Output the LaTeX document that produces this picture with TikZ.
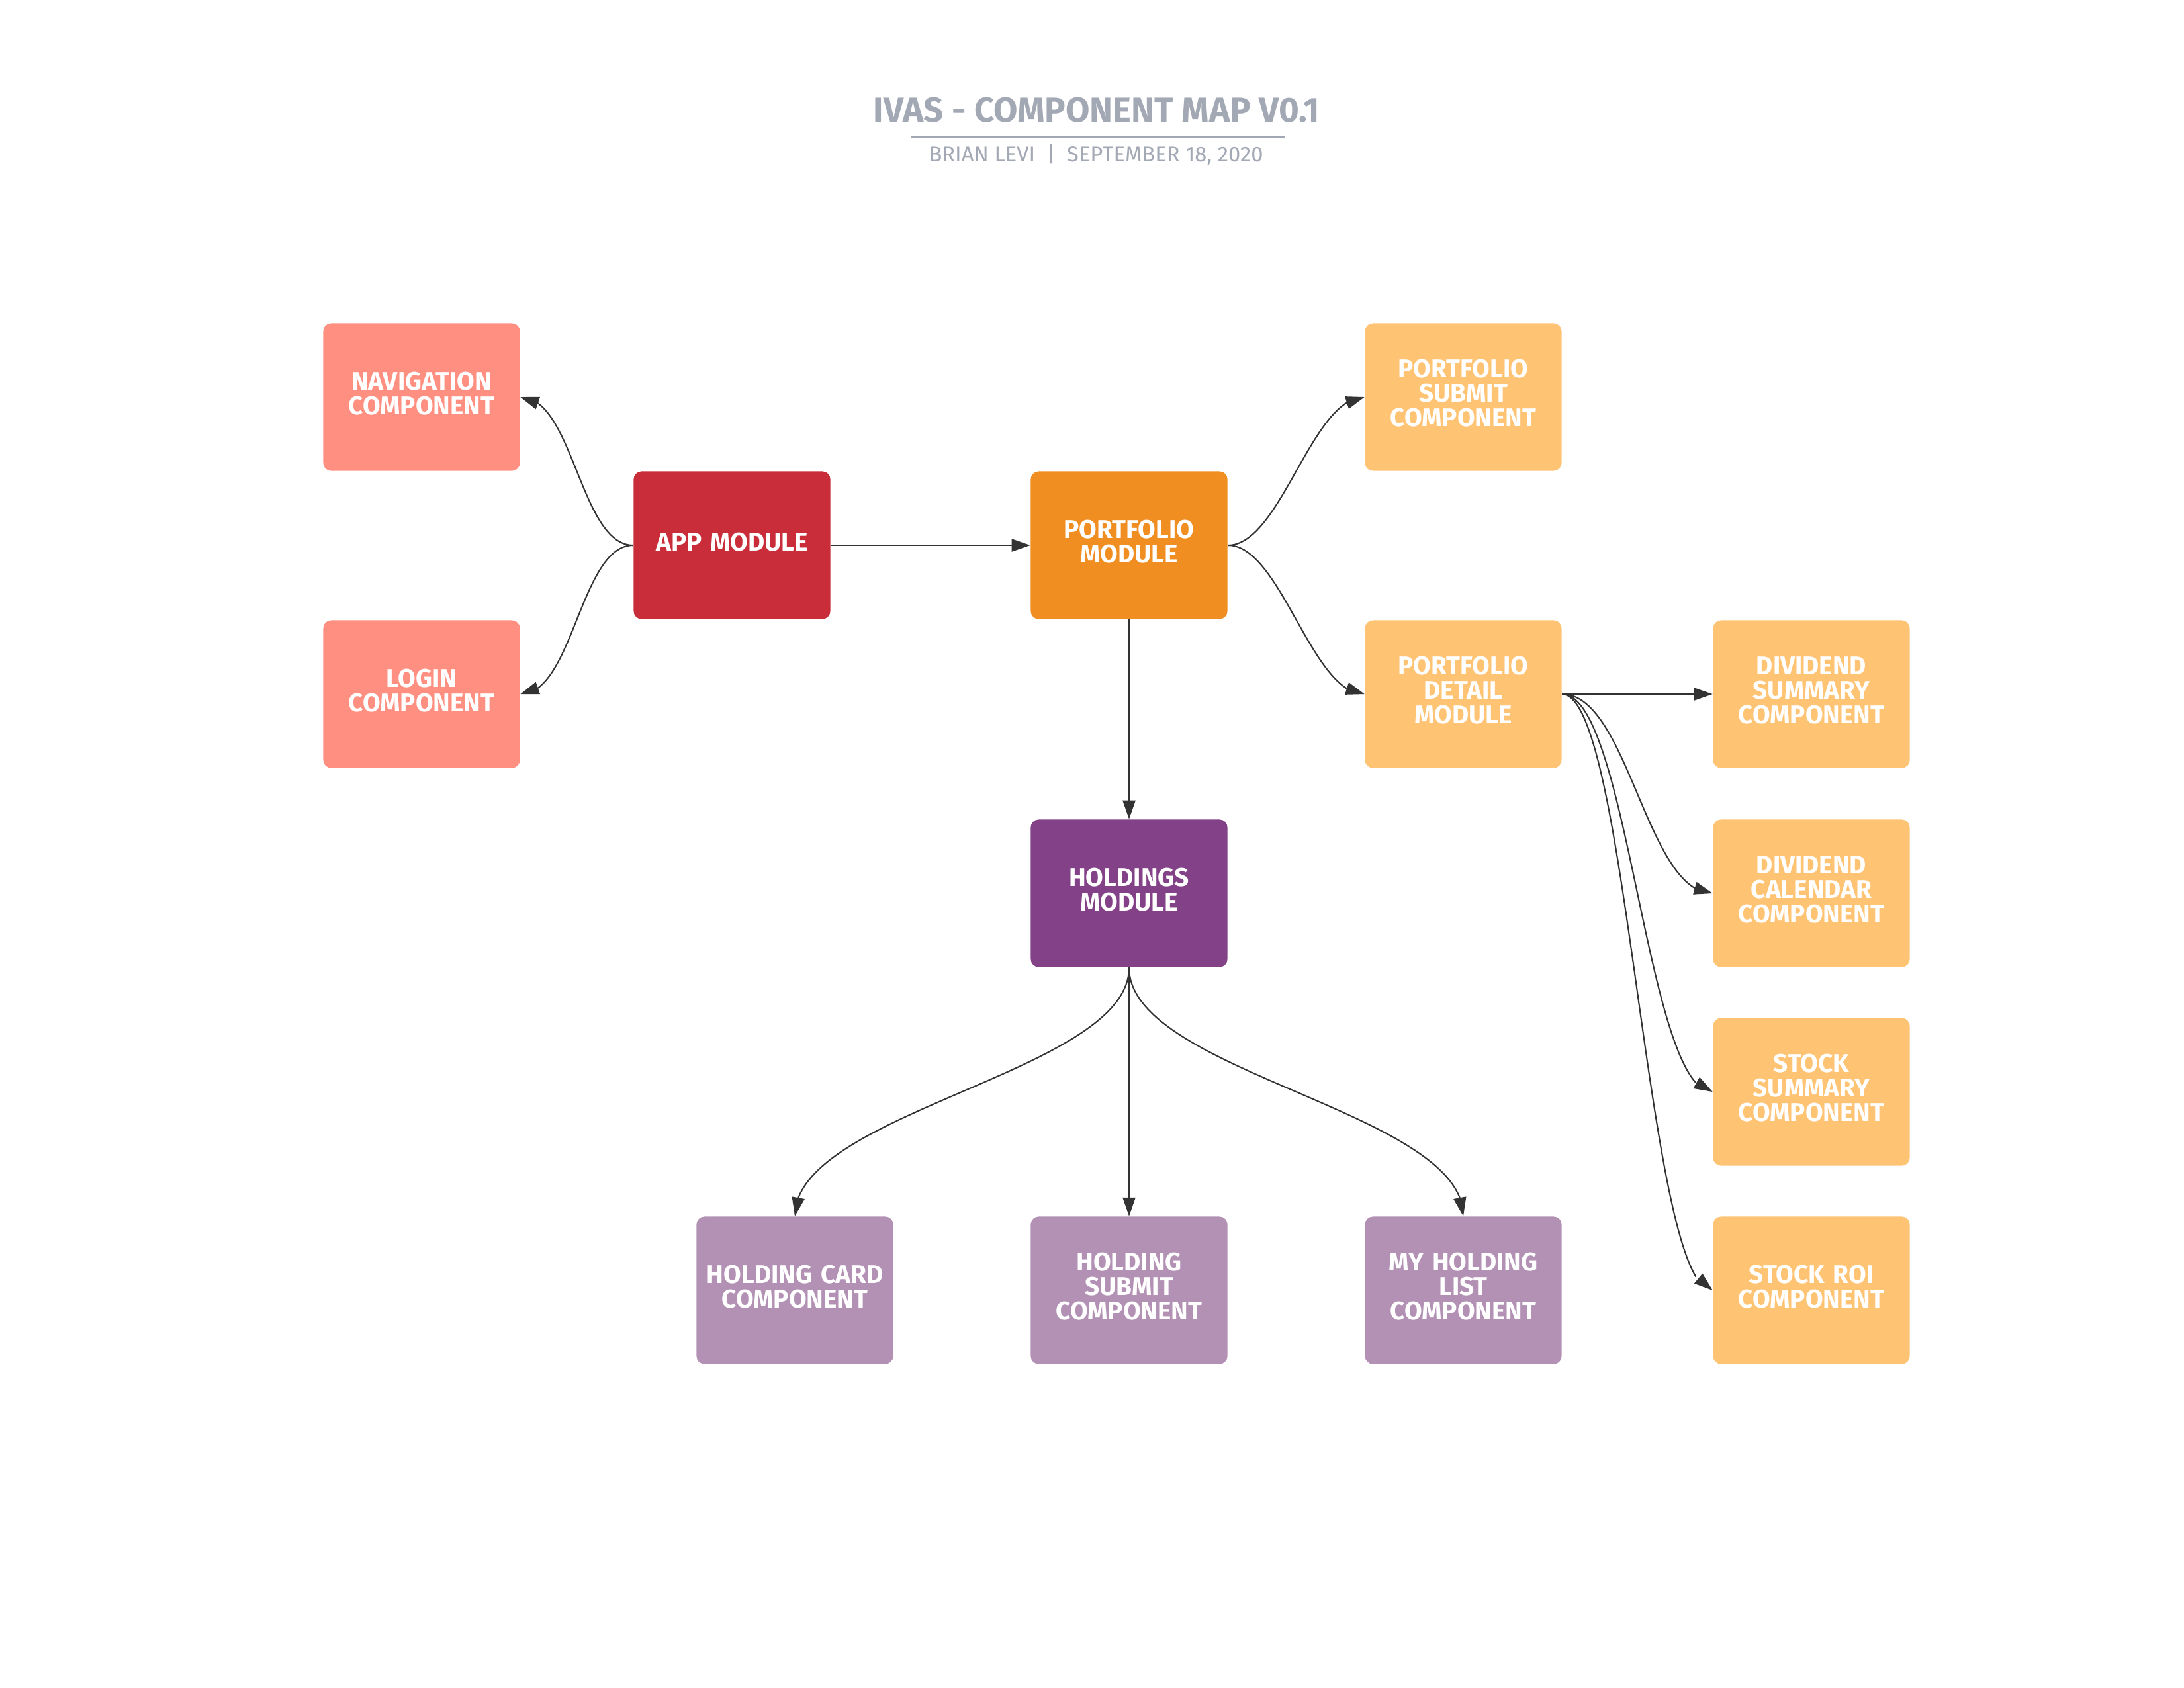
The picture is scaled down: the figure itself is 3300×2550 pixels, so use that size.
\documentclass[tikz,border=0pt]{standalone}
\usepackage{fontspec}
\newfontfamily\diafont{Fira Sans}
\usetikzlibrary{arrows.meta,bending}
\definecolor{salmon}{HTML}{FF8F80}
\definecolor{appred}{HTML}{C92D39}
\definecolor{portorange}{HTML}{F18E22}
\definecolor{lightorange}{HTML}{FFC374}
\definecolor{holdpurple}{HTML}{834187}
\definecolor{lightpurple}{HTML}{B391B5}
\definecolor{titlegrey}{HTML}{A3A9B4}
\definecolor{linegrey}{HTML}{333333}
\tikzset{
  box/.style={rectangle, rounded corners=0.12cm, minimum width=2.97cm, minimum height=2.23cm,
    text width=2.9cm, align=center, text=white, inner sep=0pt, text depth=14pt,
    font=\diafont\bfseries\fontsize{11}{10.5}\selectfont},
  oneline/.style={text depth=3pt},
  threeline/.style={text depth=24.5pt},
  conn/.style={draw=linegrey, line width=0.6pt, -{Triangle[length=0.28cm,width=0.19cm,flex]}},
  titletext/.style={text=titlegrey, font=\diafont\bfseries\fontsize{15}{16}\selectfont},
  subtext/.style={text=titlegrey, font=\diafont\fontsize{9.3}{10}\selectfont},
  titleline/.style={draw=titlegrey, line width=1.1pt}
}
\begin{document}
\begin{tikzpicture}[x=0.01cm, y=-0.01cm]
\useasboundingbox (0,0) rectangle (3300,2550);
% title
\node[titletext] (title) at (1657,166) {IVAS - COMPONENT MAP V0.1};
\coordinate (tl) at (1376,207);
\coordinate (tr) at (1942,207);
\draw[titleline] (tl) -- (tr);
\node[subtext] (sub) at (1656,234) {BRIAN LEVI \ | \ SEPTEMBER 18, 2020};
% nodes
\node[box, fill=salmon] (nav) at (637,600) {NAVIGATION\\COMPONENT};
\node[box, fill=salmon] (login) at (637,1049) {LOGIN\\COMPONENT};
\node[box, oneline, fill=appred] (app) at (1106,824) {APP MODULE};
\node[box, fill=portorange] (port) at (1706,824) {PORTFOLIO\\MODULE};
\node[box, threeline, fill=lightorange] (psub) at (2211,600) {PORTFOLIO\\SUBMIT\\COMPONENT};
\node[box, threeline, fill=lightorange] (pdet) at (2211,1049) {PORTFOLIO\\DETAIL\\MODULE};
\node[box, fill=holdpurple] (hold) at (1706,1350) {HOLDINGS\\MODULE};
\node[box, fill=lightpurple] (hcard) at (1201,1950) {HOLDING CARD\\COMPONENT};
\node[box, threeline, fill=lightpurple] (hsub) at (1706,1950) {HOLDING\\SUBMIT\\COMPONENT};
\node[box, threeline, fill=lightpurple] (hlist) at (2211,1950) {MY HOLDING\\LIST\\COMPONENT};
\node[box, threeline, fill=lightorange] (dsum) at (2737,1049) {DIVIDEND\\SUMMARY\\COMPONENT};
\node[box, threeline, fill=lightorange] (dcal) at (2737,1350) {DIVIDEND\\CALENDAR\\COMPONENT};
\node[box, threeline, fill=lightorange] (ssum) at (2737,1650) {STOCK\\SUMMARY\\COMPONENT};
\node[box, fill=lightorange] (sroi) at (2737,1950) {STOCK ROI\\COMPONENT};
% connectors
\draw[conn] (app.west) .. controls +(-80,0) and +(80,0) .. (nav.east);
\draw[conn] (app.west) .. controls +(-80,0) and +(80,0) .. (login.east);
\draw[conn] (app.east) -- (port.west);
\draw[conn] (port.east) .. controls +(80,0) and +(-80,0) .. (psub.west);
\draw[conn] (port.east) .. controls +(80,0) and +(-80,0) .. (pdet.west);
\draw[conn] (port.south) -- (hold.north);
\draw[conn] (hold.south) .. controls +(0,158) and +(0,-158) .. (hcard.north);
\draw[conn] (hold.south) -- (hsub.north);
\draw[conn] (hold.south) .. controls +(0,158) and +(0,-158) .. (hlist.north);
\draw[conn] (pdet.east) -- (dsum.west);
\draw[conn] (pdet.east) .. controls +(100,0) and +(-100,0) .. (dcal.west);
\draw[conn] (pdet.east) .. controls +(100,0) and +(-100,0) .. (ssum.west);
\draw[conn] (pdet.east) .. controls +(100,0) and +(-100,0) .. (sroi.west);
\end{tikzpicture}
\end{document}
